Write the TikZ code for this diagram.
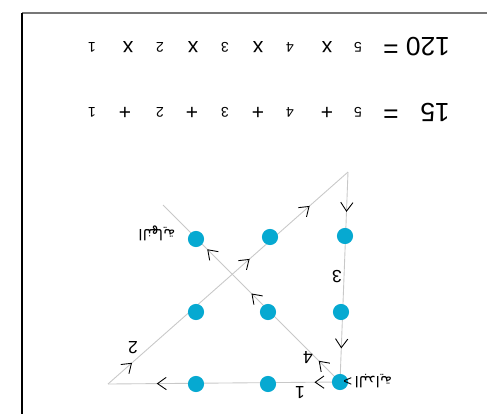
\documentclass[tikz,border=0pt]{standalone}
\usepackage{fontspec}
\setmainfont{Liberation Sans}
\newfontfamily\arabicfont[Script=Arabic]{DejaVu Sans}
\TeXXeTstate=1
\usetikzlibrary{arrows.meta,decorations.markings}

\definecolor{dotblue}{HTML}{06A9D1}
\definecolor{linegray}{HTML}{C8C8C8}
\definecolor{framegray}{HTML}{777777}

\newcommand\bigtk[1]{{\fontsize{15}{17}\selectfont #1}}
\newcommand\optk[1]{{\fontsize{12}{14}\selectfont #1}}
\newcommand\smalltk[1]{{\fontsize{8}{10}\selectfont #1}}

\tikzset{
  dot/.style={circle,fill=dotblue,inner sep=0pt,minimum size=9.2pt},
  flip/.style={rotate=180,inner sep=0pt},
  chev at/.style={postaction={decorate,decoration={markings,
      mark=at position #1 with {\arrow[black,line width=0.5pt]{Straight Barb[length=5pt,width=7pt]}}}}},
}

\begin{document}
\begin{tikzpicture}[x=0.02cm,y=-0.02cm,line width=0.5pt]
\useasboundingbox (0,0) rectangle (487,414);

%%%%%%%%%%%%%%%%%%%%%% FRAME

\draw[framegray,line width=0.7pt] (22,13) -- (487,13);
\draw[black,line width=0.7pt] (22,13) -- (22,414);

%%%%%%%%%%%%%%%%%%%%%% SUMS

\foreach \xx/\tk [count=\i] in {92/\smalltk{1},128/\optk{x},160/\smalltk{2},193/\optk{x},225/\smalltk{3},258/\optk{x},290/\smalltk{4},327/\optk{x},358/\smalltk{5},391/\bigtk{=},428/\bigtk{120}}
  \node[flip] (prod\i) at (\xx,47) {\tk};

\foreach \xx/\tk [count=\i] in {92/\smalltk{1},125/\optk{+},160/\smalltk{2},192/\optk{+},225/\smalltk{3},258/\optk{+},290/\smalltk{4},327/\optk{+},358/\smalltk{5},391/\bigtk{=},435/\bigtk{15}}
  \node[flip] (sum\i) at (\xx,112) {\tk};

%%%%%%%%%%%%%%%%%%%%%% NINE DOTS

\coordinate (p11) at (196,239);
\coordinate (p12) at (270,237);
\coordinate (p13) at (345,236);
\coordinate (p21) at (196,312);
\coordinate (p22) at (268,312);
\coordinate (p23) at (341,312);
\coordinate (p31) at (196,384);
\coordinate (p32) at (268,384);
\coordinate (p33) at (340,382);

\coordinate (cA) at (108,384);
\coordinate (cB) at (348,172);
\coordinate (cE) at (163,205);

\draw[linegray,chev at=0.11,chev at=0.79] (p33) -- (cA);
\draw[linegray,chev at=0.10,chev at=0.59,chev at=0.84] (cA) -- (cB);
\draw[linegray,chev at=0.19,chev at=0.84] (cB) -- (p33);
\draw[linegray,chev at=0.12,chev at=0.50,chev at=0.75] (p33) -- (cE);

\foreach \r in {1,2,3}
  \foreach \c in {1,2,3}
    \node[dot] (d\r\c) at (p\r\c) {};

\node[flip,font=\fontsize{10}{12}\selectfont] (n1) at (300,393) {1};
\node[flip,font=\fontsize{10}{12}\selectfont] (n2) at (133,348) {2};
\node[flip,font=\fontsize{10}{12}\selectfont] (n3) at (337,277) {3};
\node[flip,font=\fontsize{10}{12}\selectfont] (n4) at (308,358) {4};

\node[flip,anchor=east,font=\fontsize{8.5}{10}\selectfont] (start) at (343,381) {{\arabicfont\beginR البداية\endR}\,>};
\node[flip,font=\fontsize{8.5}{10}\selectfont] (finish) at (157,233) {\arabicfont\beginR النهاية\endR};

\end{tikzpicture}
\end{document}
